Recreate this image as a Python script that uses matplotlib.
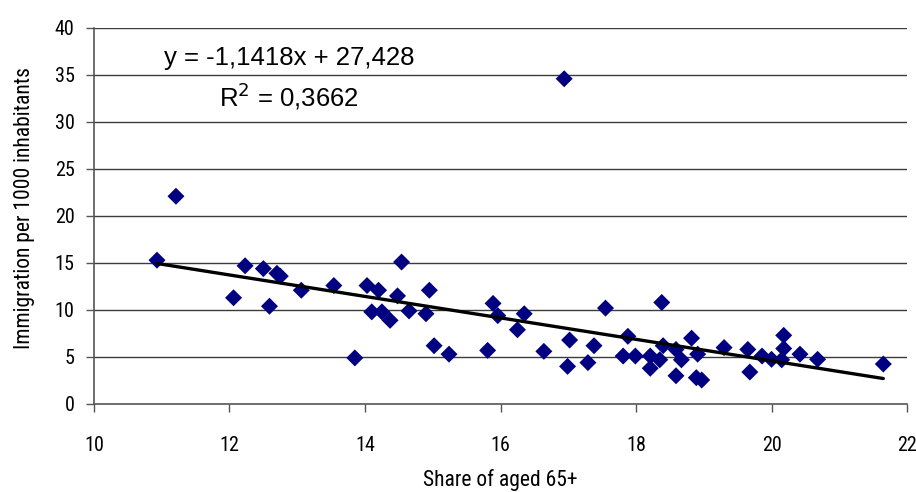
import numpy as np
import matplotlib
matplotlib.use('Agg')
import matplotlib.pyplot as plt

# --- data ---
share_65 = [10.93, 11.21, 12.06, 12.23, 12.50, 12.59, 12.70, 12.75, 13.06, 13.54,
            13.85, 14.03, 14.20, 14.54, 14.48, 14.10, 14.25, 14.37, 14.65, 14.95,
            14.90, 15.02, 15.24, 15.81, 15.89, 15.96, 16.25, 16.35, 16.64, 16.94,
            17.02, 16.99, 17.29, 17.38, 17.55, 17.81, 17.88, 17.99, 18.38, 18.21,
            18.21, 18.35, 18.40, 18.59, 18.67, 18.59, 18.82, 18.91, 18.89, 18.97,
            19.30, 19.65, 19.68, 19.86, 20.00, 20.18, 20.18, 20.15, 20.42, 20.68,
            21.65]
immigration = [15.3, 22.1, 11.3, 14.7, 14.4, 10.4, 13.9, 13.6, 12.1, 12.6,
               4.9, 12.6, 12.1, 15.1, 11.5, 9.8, 9.8, 8.9, 9.9, 12.1,
               9.6, 6.2, 5.3, 5.7, 10.7, 9.4, 7.9, 9.6, 5.6, 34.6,
               6.8, 4.0, 4.4, 6.2, 10.2, 5.1, 7.2, 5.1, 10.8, 5.1,
               3.8, 4.7, 6.2, 5.8, 4.7, 3.0, 7.0, 5.3, 2.8, 2.55,
               6.0, 5.8, 3.4, 5.1, 4.75, 7.3, 5.9, 4.7, 5.3, 4.75,
               4.25]
slope = -1.1418
intercept = 27.428
x_ticks = [10, 12, 14, 16, 18, 20, 22]
y_ticks = [0, 5, 10, 15, 20, 25, 30, 35, 40]

narrow = ['Liberation Sans Narrow', 'Roboto Condensed', 'DejaVu Sans']
regular = ['Liberation Sans', 'DejaVu Sans']

fig = plt.figure(figsize=(9.16, 4.92), dpi=100)
ax = fig.add_axes([0.1026, 0.1789, 0.8876, 0.7642])

for y in y_ticks[1:]:
    ax.axhline(y, color='#3c3c3c', lw=1.0, zorder=1)

ax.scatter(share_65, immigration, marker='D', s=75, color='#000080',
           edgecolors='none', zorder=3)

xs = np.array([min(share_65), max(share_65)])
ax.plot(xs, slope * xs + intercept, color='black', lw=2.4,
        solid_capstyle='round', zorder=4)

ax.set_xlim(10, 22)
ax.set_ylim(0, 40)
ax.set_xticks(x_ticks)
ax.set_yticks(y_ticks)
ax.set_xticklabels([str(t) for t in x_ticks], family=narrow, stretch='condensed', fontsize=14.5)
ax.set_yticklabels([str(t) for t in y_ticks], family=narrow, stretch='condensed', fontsize=14.5)
ax.tick_params(axis='x', direction='out', length=6, width=1, color='#555555', pad=17)
ax.tick_params(axis='y', direction='out', length=6, width=1, color='#555555', pad=8)

for side in ['top', 'right']:
    ax.spines[side].set_visible(False)
for side in ['left', 'bottom']:
    ax.spines[side].set_color('#555555')
    ax.spines[side].set_linewidth(1.2)

ax.set_xlabel('Share of aged 65+', family=narrow, stretch='condensed', fontsize=15.5)
ax.xaxis.set_label_coords(0.5, -0.172)
ax.set_ylabel('Immigration per 1000 inhabitants', family=narrow, stretch='condensed', fontsize=15.5)
ax.yaxis.set_label_coords(-0.073, 0.521)

ax.text(0.24, 0.92, 'y = -1,1418x + 27,428', transform=ax.transAxes,
        family=regular, fontsize=18.5, ha='center', va='center')
ax.text(0.24, 0.818, 'R$^2$ = 0,3662', transform=ax.transAxes,
        family=regular, fontsize=18.5, ha='center', va='center')

fig.savefig('out.png', dpi=100)
